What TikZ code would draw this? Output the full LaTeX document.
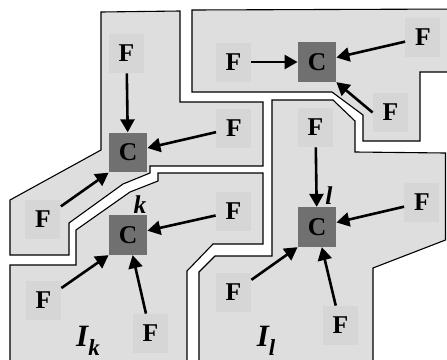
\documentclass[tikz,border=0pt]{standalone}
\usepackage{fontspec}
\setmainfont{Liberation Serif}
\usetikzlibrary{arrows.meta}

\newcommand{\lblfont}{\fontsize{12.8}{14}\selectfont\bfseries}
\newcommand{\Fn}{\node[fill=black!16, minimum width=17.5pt, minimum height=19.5pt, inner sep=0pt, font=\lblfont]}
\newcommand{\Cn}{\node[fill=black!56, minimum width=19pt, minimum height=19.75pt, inner sep=0pt, font=\lblfont]}
\newcommand{\Ln}{\node[inner sep=0pt, font=\lblfont\itshape]}
\newcommand{\In}{\node[inner sep=0pt, font=\fontsize{15.5}{16}\selectfont\bfseries\itshape]}
\newcommand{\subidx}[1]{\raisebox{-0.3em}{\fontsize{11.5}{12}\selectfont #1}}

\begin{document}
\begin{tikzpicture}[x=0.5pt, y=-0.5pt,
    region/.style={fill=black!13, draw=black, line width=0.55pt},
    flow/.style={-{Triangle[length=6.5pt,width=7pt]}, line width=1.3pt}]
            \useasboundingbox (0,0) rectangle (447,360);
            \clip (0,0) rectangle (447,360);

            \filldraw[region]
                (101,12) -- (180,11) -- (180,102) -- (263,102) -- (263,166) -- (150,166)
                -- (150,173) -- (123,184) -- (69,223) -- (69,255) -- (10,255) -- (10,200)
                -- (101,150) -- cycle;
            \filldraw[region]
                (192,10) -- (460,9) -- (460,72) -- (420,72) -- (420,141) -- (363,141)
                -- (363,115) -- (332,92) -- (192,92) -- cycle;
            \filldraw[region]
                (158,173) -- (263,173) -- (263,244) -- (213,244) -- (187,271) -- (187,370)
                -- (10,370) -- (10,265) -- (76,265) -- (76,230) -- (130,192) -- (158,181)
                -- cycle;
            \filldraw[region]
                (272,100) -- (333,100) -- (355,121) -- (355,152) -- (445.5,153)
                -- (445.5,240) -- (373,268) -- (373,370) -- (199,370) -- (199,272)
                -- (215,256) -- (272,256) -- cycle;

            \Fn (F1a) at (126.5,53.5) {F};
            \Cn (C1) at (128,152.5) {C};
            \Fn (F1b) at (234,128) {F};
            \Fn (F1c) at (43,219) {F};

            \Cn (C2) at (317,62) {C};
            \Fn (F2a) at (233.5,62) {F};
            \Fn (F2b) at (423,37.5) {F};
            \Fn (F2c) at (390.5,112.5) {F};

            \Cn (Ck) at (128,235) {C};
            \Fn (Fkr) at (233.5,211.5) {F};
            \Fn (Fkl) at (43.5,300.5) {F};
            \Fn (Fkb) at (150.5,333.5) {F};
            \Ln (lblk) at (140,205) {k};
            \In (Ik) at (88,341) {I\subidx{k}};

            \Cn (Cl) at (317,227) {C};
            \Fn (Flt) at (315.5,127.5) {F};
            \Fn (Flr) at (422,202.5) {F};
            \Fn (Fll) at (233.5,292.5) {F};
            \Fn (Flb) at (340.5,325.5) {F};
            \Ln (lbll) at (329,196) {l};
            \In (Il) at (266,341) {I\subidx{l}};

            \draw[flow]
                (F1a) -- (C1);
            \draw[flow]
                (F1b) -- (C1);
            \draw[flow]
                (F1c) -- (C1.south west);
            \draw[flow]
                (F2a) -- (C2);
            \draw[flow]
                (F2b) -- (C2);
            \draw[flow]
                (F2c.west) -- (C2.south east);
            \draw[flow]
                (Fkr) -- (Ck);
            \draw[flow]
                (Fkl) -- (Ck.south west);
            \draw[flow]
                (Fkb) -- (Ck);
            \draw[flow]
                (Flt) -- (Cl);
            \draw[flow]
                (Flr) -- (Cl);
            \draw[flow]
                (Fll) -- (Cl.south west);
            \draw[flow]
                (Flb) -- (Cl);

        \end{tikzpicture}
\end{document}
